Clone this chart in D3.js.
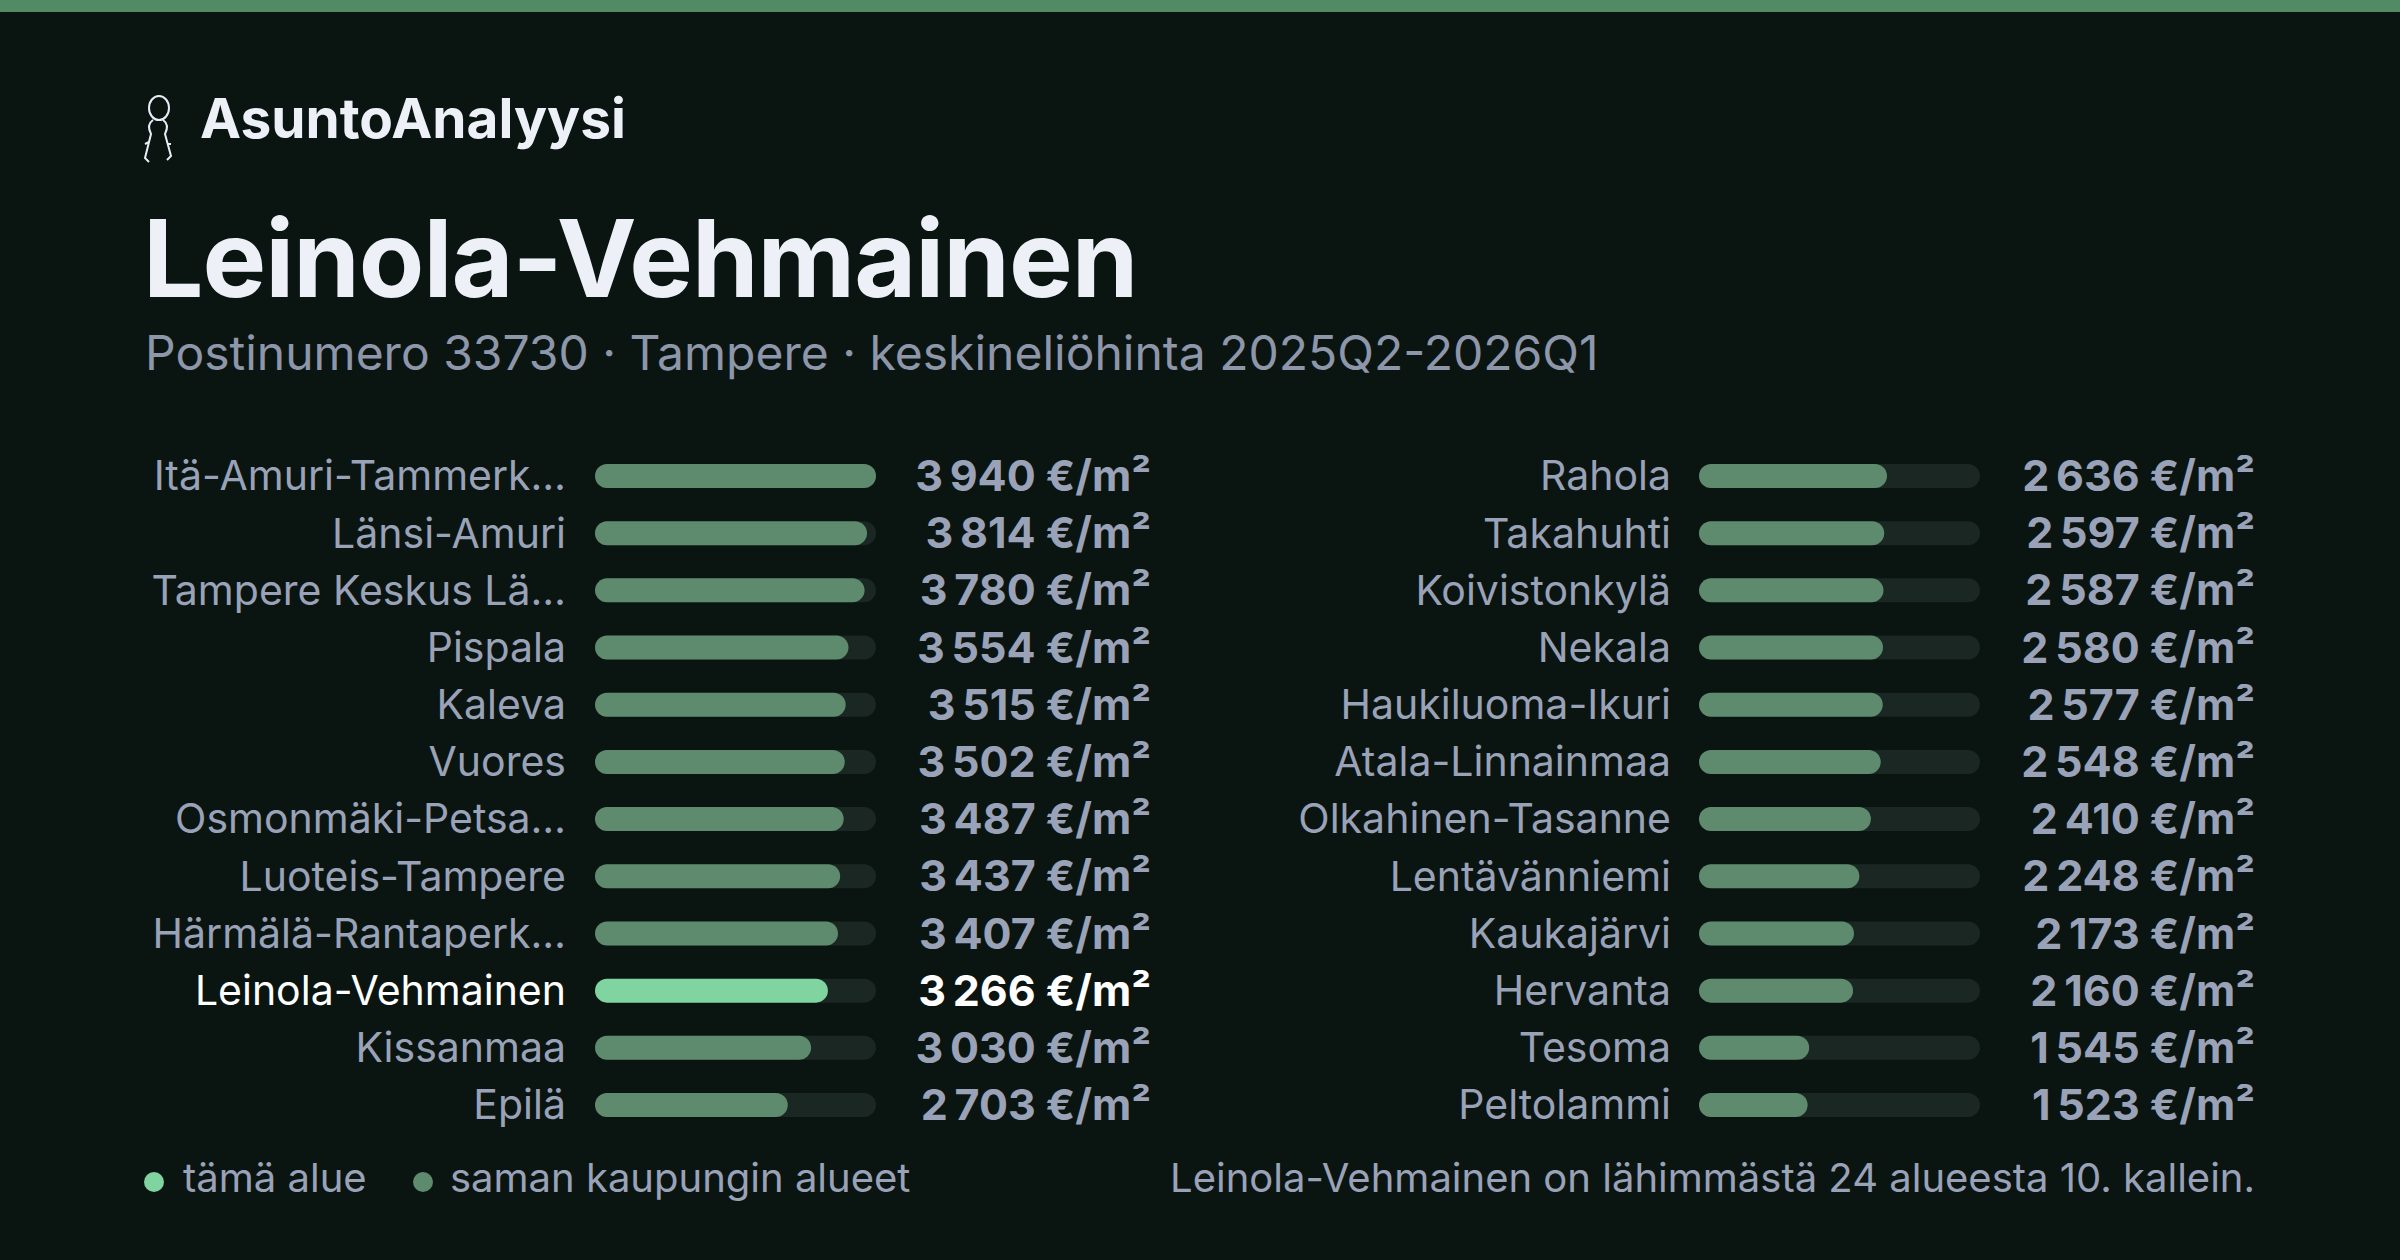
<!DOCTYPE html>
<html><head><meta charset="utf-8">
<script src="https://cdn.jsdelivr.net/npm/d3@7"></script>
<style>html,body{margin:0;padding:0;background:#0a1512;}svg{display:block;font-family:Inter,"Noto Sans",sans-serif;}</style>
</head><body>
<svg id="c" width="2400" height="1260"></svg>
<script>
const areas = ["Itä-Amuri-Tammerk…","Länsi-Amuri","Tampere Keskus Lä…","Pispala","Kaleva","Vuores","Osmonmäki-Petsa…","Luoteis-Tampere","Härmälä-Rantaperk…","Leinola-Vehmainen","Kissanmaa","Epilä","Rahola","Takahuhti","Koivistonkylä","Nekala","Haukiluoma-Ikuri","Atala-Linnainmaa","Olkahinen-Tasanne","Lentävänniemi","Kaukajärvi","Hervanta","Tesoma","Peltolammi"];
const prices = [3940,3814,3780,3554,3515,3502,3487,3437,3407,3266,3030,2703,2636,2597,2587,2580,2577,2548,2410,2248,2173,2160,1545,1523];
const current = "Leinola-Vehmainen";

const svg = d3.select("#c");
svg.append("rect").attr("width",2400).attr("height",1260).attr("fill","#0a1512");
svg.append("rect").attr("width",2400).attr("height",12).attr("fill","#528a64");

const ic = svg.append("g").attr("transform","translate(143,94)").attr("fill","none").attr("stroke","#e8ecf6").attr("stroke-width",2);
ic.append("ellipse").attr("cx",16).attr("cy",14).attr("rx",10).attr("ry",12);
ic.append("path").attr("d","M10,26 C4,30 6,36 8,40 L2,64 L6,68 M6,48 L2,50 M20,26 C26,30 24,36 22,40 L28,62 L24,66 M24,50 L28,50");
svg.append("text").attr("x",200).attr("y",138).attr("fill","#eef0f8").attr("font-size",55).attr("font-weight",700).text("AsuntoAnalyysi");
svg.append("text").attr("x",143).attr("y",297).attr("fill","#eef0f8").attr("font-size",107).attr("font-weight",700).attr("letter-spacing",-1).text("Leinola-Vehmainen");
svg.append("text").attr("x",145).attr("y",370).attr("fill","#8e96aa").attr("font-size",48).text("Postinumero 33730 · Tampere · keskineliöhinta 2025Q2-2026Q1");

const fmt = v => d3.format(",")(v).replace(/,/g,"\u2009") + " €/m²";
const rows = d3.range(12);
const y = d3.scalePoint().domain(rows).range([476,1105]);
const cols = [{labelX:566,barX:595,valX:1151},{labelX:1671,barX:1699,valX:2255}];
const barW = 281;
const x = d3.scaleLinear().domain([0,d3.max(prices)]).range([0,barW]);
const bh = 24;

areas.forEach((a,i)=>{
  const c = cols[Math.floor(i/12)], r = i%12, cy = y(r), hi = a===current;
  const g = svg.append("g");
  g.append("text").attr("x",c.labelX).attr("y",cy).attr("dy","0.35em").attr("text-anchor","end")
    .attr("font-size",41).attr("fill",hi?"#ffffff":"#9aa2b8").text(a);
  g.append("rect").attr("x",c.barX).attr("y",cy-bh/2).attr("width",barW).attr("height",bh).attr("rx",bh/2).attr("fill","#1b2722");
  g.append("rect").attr("x",c.barX).attr("y",cy-bh/2).attr("width",x(prices[i])).attr("height",bh).attr("rx",bh/2).attr("fill",hi?"#7fd4a0":"#5e8a6e");
  g.append("text").attr("x",c.valX).attr("y",cy).attr("dy","0.35em").attr("text-anchor","end")
    .attr("font-size",43).attr("font-weight",700).attr("fill",hi?"#ffffff":"#9aa2b8").text(fmt(prices[i]));
});

const ly = 1178;
svg.append("circle").attr("cx",154).attr("cy",ly+4).attr("r",10).attr("fill","#7fd4a0");
svg.append("text").attr("x",183).attr("y",ly).attr("dy","0.35em").attr("font-size",40).attr("fill","#9aa2b8").text("tämä alue");
svg.append("circle").attr("cx",423).attr("cy",ly+4).attr("r",10).attr("fill","#5e8a6e");
svg.append("text").attr("x",450).attr("y",ly).attr("dy","0.35em").attr("font-size",40).attr("fill","#9aa2b8").text("saman kaupungin alueet");
svg.append("text").attr("x",2255).attr("y",ly).attr("dy","0.35em").attr("text-anchor","end").attr("font-size",40).attr("fill","#9aa2b8").text("Leinola-Vehmainen on lähimmästä 24 alueesta 10. kallein.");
</script>
</body></html>
